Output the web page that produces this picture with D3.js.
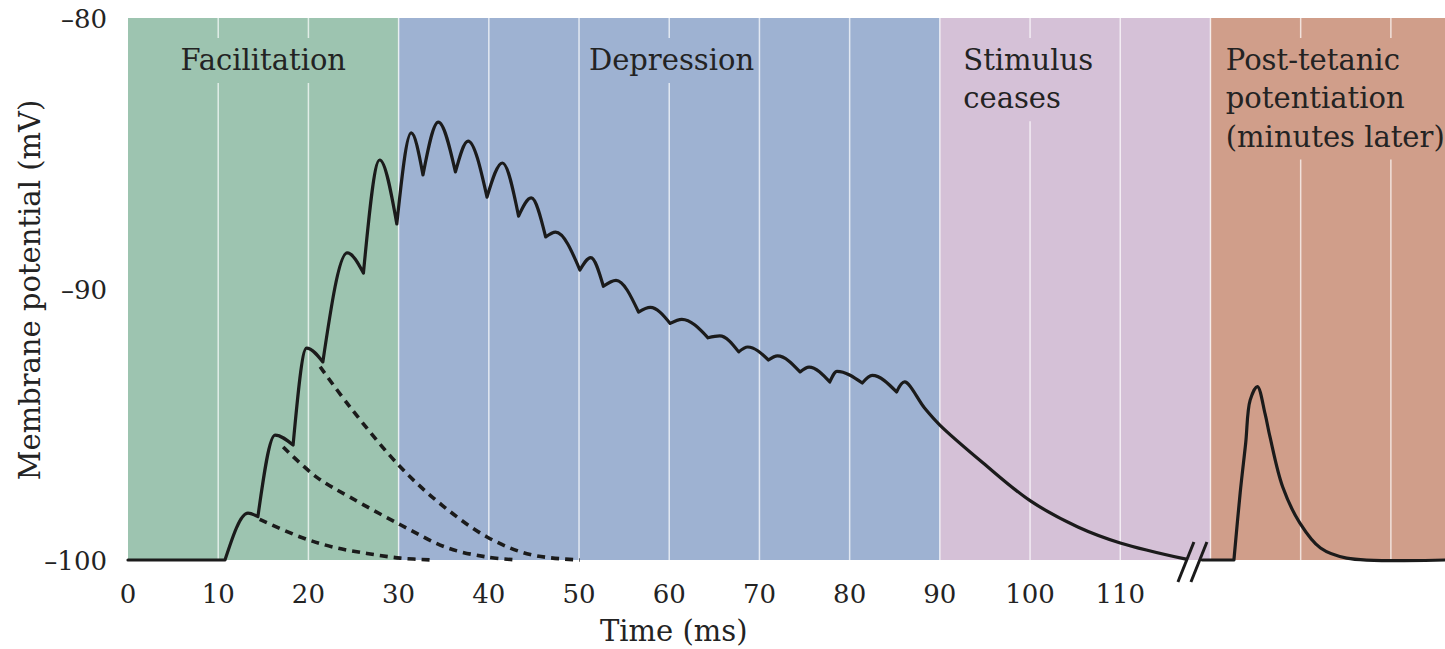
<!DOCTYPE html>
<html>
<head>
<meta charset="utf-8">
<title>Facilitation, depression and post-tetanic potentiation</title>
<script src="https://cdn.jsdelivr.net/npm/d3@7"></script>
<style>

body {
  margin: 0;
  background: #fff;
}

text {
  font-family: "DejaVu Serif", serif;
  fill: #232323;
}

.tick-label {
  font-size: 26px;
}

.region-label,
.axis-title {
  font-size: 29px;
}

line.grid {
  stroke: #fff;
  stroke-opacity: 0.7;
  stroke-width: 1.5px;
}

path.trace {
  fill: none;
  stroke: #1b1b1b;
  stroke-width: 3.2px;
  stroke-linejoin: round;
  stroke-linecap: round;
}

path.decay {
  fill: none;
  stroke: #1b1b1b;
  stroke-width: 3.6px;
  stroke-dasharray: 8,6;
}

line.break-mark {
  stroke: #1b1b1b;
  stroke-width: 3px;
}

</style>
</head>
<body>
<script>

// ---- data ----

var regionNames = ["Facilitation", "Depression", "Stimulus ceases", "Post-tetanic potentiation"];
var regionLines = [["Facilitation"], ["Depression"], ["Stimulus", "ceases"],
                   ["Post-tetanic", "potentiation", "(minutes later)"]];
var regionStart = [0, 30, 90, 120];
var regionEnd = [30, 90, 120, 146];

var xTicks = [0, 10, 20, 30, 40, 50, 60, 70, 80, 90, 100, 110];
var yTicks = [-80, -90, -100];

// train of EPSPs during the stimulus (ms, mV)
var trainTime = [0, 10.75, 13.3, 14.4, 16.3, 18.3, 19.8, 21.6, 24.3, 26.1, 27.9, 29.8,
                 31.4, 32.7, 34.4, 36.3, 37.7, 39.8, 41.5, 43.3, 44.7, 46.3, 47.4, 50.1,
                 51.3, 52.7, 54.1, 56.6, 57.9, 60.1, 61.4, 64.3, 65.6, 67.7, 68.7, 71.0,
                 72.0, 74.5, 75.5, 77.8, 78.6, 81.4, 82.5, 85.2, 86.1,
                 88.3, 90, 94.8, 100, 105.3, 110, 117.3];
var trainMv = [-100, -100, -98.27, -98.4, -95.39, -95.76, -92.18, -92.69, -88.67, -89.41, -85.24, -87.6,
               -84.24, -85.79, -83.84, -85.68, -84.54, -86.61, -85.35, -87.31, -86.64, -88.08, -87.9, -89.3,
               -88.84, -89.9, -89.68, -90.85, -90.68, -91.27, -91.12, -91.8, -91.73, -92.32, -92.14, -92.62,
               -92.47, -93.06, -92.88, -93.43, -93.04, -93.47, -93.19, -93.8, -93.43,
               -94.39, -95.02, -96.42, -97.81, -98.78, -99.37, -99.97];

// single EPSP minutes later
var ptpTime = [119.1, 122.6, 123.3, 123.9, 124.4, 125.2, 126.05, 126.6, 128.0, 129.9, 132.2, 135.1, 146];
var ptpMv = [-100, -100, -97.5, -95.7, -94.1, -93.6, -94.6, -95.46, -97.3, -98.63, -99.56, -99.93, -100];

// decay of single EPSPs had no further stimulus come (dashed)
var decay1Time = [14.6, 19.1, 22.7, 26.5, 30.2, 33.8];
var decay1Mv = [-98.5, -99.15, -99.52, -99.76, -99.93, -100];
var decay2Time = [17.2, 20.9, 24.6, 30.2, 35.4, 39.8, 43.2];
var decay2Mv = [-95.83, -96.94, -97.68, -98.7, -99.55, -99.89, -100];
var decay3Time = [21.3, 24.6, 30.2, 34.9, 39.8, 44.6, 50.1];
var decay3Mv = [-92.87, -94.35, -96.57, -98.0, -99.15, -99.8, -100];

var axisBreak = 118.0;

// ---- layout ----

var width = 1445,
    height = 649;

var regionColor = d3.scaleOrdinal()
    .domain(regionNames)
    .range(["#9dc4b0", "#9eb2d2", "#d5c1d7", "#d09e8a"]);

// where each label sits (ms) and how it is anchored
var labelAt = [15, 60.25, 92.6, 121.7];
var labelAnchor = ["middle", "middle", "start", "start"];

var x = d3.scaleLinear().domain([0, 146]).range([128, 1445]);
var y = d3.scaleLinear().domain([-100, -80]).range([560, 18]);

var svg = d3.select("body").append("svg")
    .attr("width", width)
    .attr("height", height);

// coloured phases
svg.append("g")
  .selectAll("rect")
  .data(regionNames)
  .enter()
  .append("rect")
    .attr("x", function(d, i) { return x(regionStart[i]); })
    .attr("y", y(-80))
    .attr("width", function(d, i) { return x(regionEnd[i]) - x(regionStart[i]); })
    .attr("height", y(-100) - y(-80))
    .style("fill", function(d) { return regionColor(d); });

var gridG = svg.append("g");

// phase labels
var labels = svg.append("g")
  .selectAll("text")
  .data(regionNames)
  .enter()
  .append("text")
    .attr("class", "region-label")
    .attr("text-anchor", function(d, i) { return labelAnchor[i]; });

labels.each(function(d, i) {
  d3.select(this).selectAll("tspan")
    .data(regionLines[i])
    .enter()
    .append("tspan")
      .attr("x", x(labelAt[i]))
      .attr("y", function(s, k) { return y(-80) + 52 + k * 38.3; })
      .text(function(s) { return s; });
});

// white grid lines, broken where they would run through a label
var boxes = [];
labels.each(function() { boxes.push(this.getBBox()); });

var gridTimes = d3.range(10, 146, 10);
var gridSegs = [];
gridTimes.forEach(function(t) {
  var gx = x(t), top = y(-80), bottom = y(-100);
  var cuts = boxes.filter(function(b) { return gx > b.x - 5 && gx < b.x + b.width + 5; });
  cuts.forEach(function(b) {
    gridSegs.push({x: gx, y1: top, y2: b.y - 5});
    top = b.y + b.height + 6;
  });
  gridSegs.push({x: gx, y1: top, y2: bottom});
});

gridG.selectAll("line")
  .data(gridSegs)
  .enter()
  .append("line")
    .attr("class", "grid")
    .attr("x1", function(d) { return d.x; })
    .attr("x2", function(d) { return d.x; })
    .attr("y1", function(d) { return d.y1; })
    .attr("y2", function(d) { return d.y2; });

// curves: one piece per EPSP so the troughs stay sharp
var shortLine = d3.line().curve(d3.curveMonotoneX);
var smoothLine = d3.line().curve(d3.curveCatmullRom.alpha(0.5));

function tracePath(ts, vs) {
  var pts = ts.map(function(t, i) { return [x(t), y(vs[i])]; });
  var segs = [], cur = [pts[0]];
  for (var i = 1; i < pts.length; i++) {
    cur.push(pts[i]);
    if (i < pts.length - 1 && vs[i + 1] > vs[i] && vs[i] <= vs[i - 1]) {
      segs.push(cur);
      cur = [pts[i]];
    }
  }
  segs.push(cur);
  return segs.map(function(s, k) {
    var p = s.length > 3 ? smoothLine(s) : shortLine(s);
    return k === 0 ? p : p.replace(/^M/, "L");
  }).join("");
}

function simplePath(ts, vs) {
  return smoothLine(ts.map(function(t, i) { return [x(t), y(vs[i])]; }));
}

svg.append("g")
  .selectAll("path")
  .data([[decay1Time, decay1Mv], [decay2Time, decay2Mv], [decay3Time, decay3Mv]])
  .enter()
  .append("path")
    .attr("class", "decay")
    .attr("d", function(d) { return simplePath(d[0], d[1]); });

svg.append("path")
    .attr("class", "trace")
    .attr("d", tracePath(trainTime, trainMv));

svg.append("path")
    .attr("class", "trace")
    .attr("d", tracePath(ptpTime, ptpMv));

// axis break "//"
var bx = x(axisBreak), by = y(-100) + 2;
svg.append("g")
  .selectAll("line")
  .data([-6.5, 6.5])
  .enter()
  .append("line")
    .attr("class", "break-mark")
    .attr("x1", function(d) { return bx + d - 8; })
    .attr("y1", by + 20)
    .attr("x2", function(d) { return bx + d + 8; })
    .attr("y2", by - 20);

// tick labels
svg.append("g")
  .selectAll("text")
  .data(xTicks)
  .enter()
  .append("text")
    .attr("class", "tick-label")
    .attr("x", function(d) { return x(d); })
    .attr("y", 603)
    .attr("text-anchor", "middle")
    .text(function(d) { return d; });

svg.append("g")
  .selectAll("text")
  .data(yTicks)
  .enter()
  .append("text")
    .attr("class", "tick-label")
    .attr("x", 107)
    .attr("y", function(d) { return y(d); })
    .attr("dy", "0.38em")
    .attr("text-anchor", "end")
    .text(function(d) { return "\u2013" + Math.abs(d); });

// axis titles
svg.append("text")
    .attr("class", "axis-title")
    .attr("x", x(60.5))
    .attr("y", 641)
    .attr("text-anchor", "middle")
    .text("Time (ms)");

svg.append("text")
    .attr("class", "axis-title")
    .attr("transform", "translate(40,290) rotate(-90)")
    .attr("text-anchor", "middle")
    .text("Membrane potential (mV)");

</script>
</body>
</html>
